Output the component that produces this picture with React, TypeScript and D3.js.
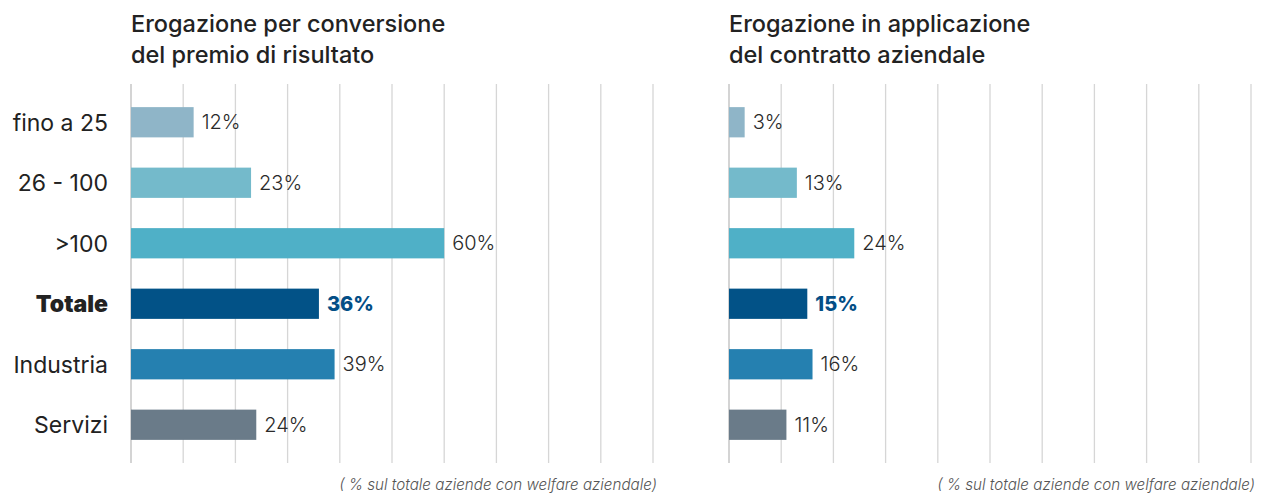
import React, { useEffect, useRef } from 'react';
import * as d3 from 'd3';

const categories = ['fino a 25', '26 - 100', '>100', 'Totale', 'Industria', 'Servizi'];
const premioValues = [12, 23, 60, 36, 39, 24];
const contrattoValues = [3, 13, 24, 15, 16, 11];
const barColors = ['#8fb5c8', '#74bacb', '#4fb0c7', '#025287', '#2580b0', '#6a7b89'];
const panelTitles = [
  ['Erogazione per conversione', 'del premio di risultato'],
  ['Erogazione in applicazione', 'del contratto aziendale'],
];
const footNote = '( % sul totale aziende con welfare aziendale)';
const ticks = [0, 10, 20, 30, 40, 50, 60, 70, 80, 90, 100];

const W = 1273;
const H = 493;
const FONT = 'Inter, "Noto Sans", sans-serif';

export default function App() {
  const ref = useRef<SVGSVGElement>(null);

  useEffect(() => {
    const svg = d3.select(ref.current);
    svg.selectAll('*').remove();

    const y = d3.scaleBand().domain(categories).range([92, 455]).paddingInner(0.5).paddingOuter(0.25);

    const panels = [
      { values: premioValues, x0: 131, title: panelTitles[0] },
      { values: contrattoValues, x0: 729, title: panelTitles[1] },
    ];

    panels.forEach(p => {
      const x = d3.scaleLinear().domain([0, 100]).range([p.x0, p.x0 + 522]);
      const g = svg.append('g');

      g.selectAll('.grid')
        .data(ticks)
        .join('line')
        .attr('x1', d => x(d))
        .attr('x2', d => x(d))
        .attr('y1', 84)
        .attr('y2', 463)
        .attr('stroke', (d, i) => (i === 0 ? '#bdbdbd' : '#d6d6d6'))
        .attr('stroke-width', 1.3);

      g.selectAll('.bar')
        .data(p.values)
        .join('rect')
        .attr('x', x(0))
        .attr('y', (d, i) => y(categories[i]))
        .attr('width', d => x(d) - x(0))
        .attr('height', y.bandwidth())
        .attr('fill', (d, i) => barColors[i]);

      g.selectAll('.val')
        .data(p.values)
        .join('text')
        .attr('x', d => x(d) + 8)
        .attr('y', (d, i) => y(categories[i]) + y.bandwidth() / 2)
        .attr('dy', '0.36em')
        .attr('font-family', FONT)
        .attr('font-size', 20)
        .attr('font-weight', (d, i) => (categories[i] === 'Totale' ? 800 : 300))
        .attr('fill', (d, i) => (categories[i] === 'Totale' ? '#034e86' : '#2a2a2a'))
        .text(d => `${d}%`);

      g.append('text')
        .attr('x', x(0))
        .attr('font-family', FONT)
        .attr('font-size', 23.5)
        .attr('font-weight', 500)
        .attr('fill', '#222')
        .selectAll('tspan')
        .data(p.title)
        .join('tspan')
        .attr('x', x(0))
        .attr('y', (d, i) => 32 + i * 31)
        .text(d => d);

      g.append('text')
        .attr('x', x(100) + 4)
        .attr('y', 490)
        .attr('text-anchor', 'end')
        .attr('font-family', FONT)
        .attr('font-size', 15.2)
        .attr('font-style', 'italic')
        .attr('font-weight', 300)
        .attr('fill', '#555')
        .text(footNote);
    });

    svg.selectAll('.cat')
      .data(categories)
      .join('text')
      .attr('x', 108)
      .attr('y', d => y(d) + y.bandwidth() / 2)
      .attr('dy', '0.36em')
      .attr('text-anchor', 'end')
      .attr('font-family', FONT)
      .attr('font-size', 23)
      .attr('font-weight', d => (d === 'Totale' ? 900 : 400))
      .attr('fill', '#222')
      .text(d => d);
  }, []);

  return (
    <svg
      ref={ref}
      width={W}
      height={H}
      style={{ position: 'absolute', left: 0, top: 0, background: '#fff' }}
    />
  );
}
